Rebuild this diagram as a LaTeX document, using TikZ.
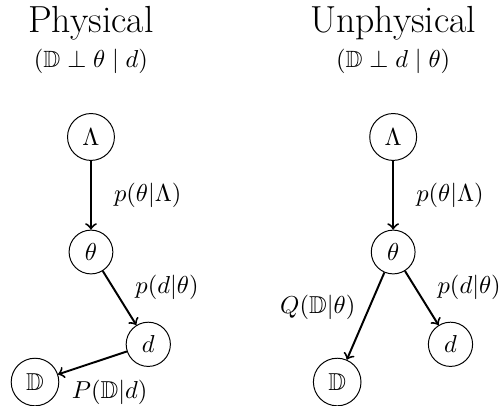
\documentclass[tikz,border=0pt]{standalone}
\usepackage{amssymb}
\newcommand{\titlesize}{\fontsize{15.4}{18}\selectfont}
\newcommand{\subsize}{\fontsize{9.6}{11.5}\selectfont}
\begin{document}
\begin{tikzpicture}[>=to, var/.style={draw, circle}]
  \useasboundingbox (0,0) rectangle (7.158,-5.81);

  % physical
  \node[anchor=base] (titL) at (1.305,-0.463) {\titlesize Physical};
  \node[anchor=base] (subL) at (1.305,-0.975) {\subsize $(\mathbb{D} \perp \theta \mid d)$};
  \node[var] (lamL) at (1.305,-1.965) {$\Lambda$};
  \node[var] (thL) at (1.305,-3.615) {$\theta$};
  \node[var] (dL) at (2.127,-4.939) {$d$};
  \node[var] (DL) at (0.502,-5.48) {$\mathbb{D}$};
  \draw[->, thick] (lamL) -- (thL) node[midway, right=2mm] {$p(\theta|\Lambda)$};
  \draw[->, thick] (thL) -- (dL) node[pos=0.7, above right] {$p(d|\theta)$};
  \draw[->, thick] (dL) -- (DL) node[pos=0.25, below=2mm] {$P(\mathbb{D}|d)$};

  % unphysical
  \node[anchor=base] (titR) at (5.64,-0.463) {\titlesize Unphysical};
  \node[anchor=base] (subR) at (5.64,-0.975) {\subsize $(\mathbb{D} \perp d \mid \theta)$};
  \node[var] (lamR) at (5.64,-1.965) {$\Lambda$};
  \node[var] (thR) at (5.64,-3.615) {$\theta$};
  \node[var] (dR) at (6.462,-4.939) {$d$};
  \node[var] (DR) at (4.837,-5.48) {$\mathbb{D}$};
  \draw[->, thick] (lamR) -- (thR) node[midway, right=2mm] {$p(\theta|\Lambda)$};
  \draw[->, thick] (thR) -- (dR) node[pos=0.7, above right] {$p(d|\theta)$};
  \draw[->, thick] (thR) -- (DR) node[pos=0.4, left=2pt] {$Q(\mathbb{D}|\theta)$};
\end{tikzpicture}
\end{document}
